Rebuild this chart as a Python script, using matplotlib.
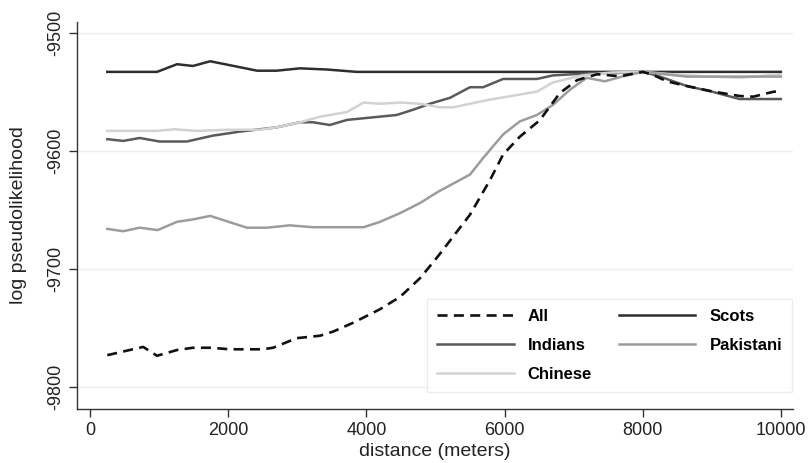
import numpy as np
import matplotlib
matplotlib.use("Agg")
import matplotlib.pyplot as plt

plt.rcParams['font.family'] = ['Liberation Sans', 'DejaVu Sans']
plt.rcParams['axes.unicode_minus'] = False

# distance (m) and log pseudolikelihood
all_x = [250, 620, 770, 970, 1260, 1490, 1740, 2030, 2500, 2650, 2990, 3330, 3520, 3810,
         4200, 4490, 4780, 5040, 5500, 5790, 5980, 6220, 6510, 6800, 7050, 7340, 7670,
         8000, 8150, 8350, 8640, 9020, 9400, 9600, 9880, 10000]
all_y = [-9773, -9768, -9766, -9773.5, -9768.6, -9766.7, -9766.7, -9768, -9768, -9766.7,
         -9758.6, -9756.5, -9753, -9745.5, -9734, -9723.5, -9707.6, -9689, -9654, -9624.6,
         -9603, -9588, -9574, -9551, -9540, -9535, -9536.7, -9533, -9535.5, -9541, -9545,
         -9549.7, -9553.4, -9554, -9550, -9549]

scots_x = [250, 970, 1260, 1490, 1740, 2420, 2700, 3040, 3430, 3860, 5060, 6000, 8000, 10000]
scots_y = [-9533, -9533, -9526.5, -9528, -9524, -9532, -9532, -9530, -9531, -9533,
           -9533, -9533, -9533, -9533]

indians_x = [250, 480, 720, 1010, 1400, 1780, 2170, 2700, 3040, 3230, 3470, 3720, 4010,
             4440, 4680, 4920, 5210, 5500, 5690, 5980, 6470, 6700, 7280, 7600, 8000,
             8200, 8640, 9020, 9400, 10000]
indians_y = [-9590, -9591.5, -9589, -9592, -9592, -9587, -9583.6, -9580, -9575.7, -9575.7,
             -9578, -9573.7, -9572, -9569.5, -9565, -9560, -9555, -9546, -9546, -9539,
             -9539, -9536, -9534, -9534, -9533, -9536, -9545, -9550, -9556, -9556]

pakistani_x = [250, 480, 720, 980, 1260, 1490, 1740, 2270, 2560, 2890, 3230, 3960, 4200,
               4490, 4780, 5040, 5500, 5690, 5980, 6220, 6470, 6700, 6950, 7190, 7450,
               7700, 8000, 8640, 10000]
pakistani_y = [-9666, -9668, -9665, -9667, -9660, -9658, -9655, -9665, -9665, -9663,
               -9664.6, -9664.6, -9660, -9652.6, -9644, -9634.5, -9620, -9606, -9586,
               -9575, -9569.5, -9561, -9548, -9538, -9541, -9537, -9533, -9537, -9537]

chinese_x = [250, 970, 1220, 1540, 2030, 2460, 2700, 3040, 3330, 3720, 3960, 4200, 4490,
             4780, 5060, 5260, 5740, 6470, 6700, 7120, 7550, 8000, 8640, 9400, 10000]
chinese_y = [-9583, -9583, -9581.6, -9583, -9582, -9582, -9580, -9575.7, -9571, -9567,
             -9559, -9560, -9559, -9560, -9563, -9563, -9557, -9549.7, -9542, -9536,
             -9533.5, -9533, -9536, -9538, -9535]

fig = plt.figure(figsize=(8.08, 4.63), dpi=100)
ax = fig.add_axes([0.0953, 0.1166, 0.886, 0.836])

h_scots, = ax.plot(scots_x, scots_y, color='#2e2e2e', lw=1.8, label='Scots')
h_ind, = ax.plot(indians_x, indians_y, color='#5a5a5a', lw=1.8, label='Indians')
h_chn, = ax.plot(chinese_x, chinese_y, color='#d2d2d2', lw=1.8, label='Chinese')
h_pak, = ax.plot(pakistani_x, pakistani_y, color='#9c9c9c', lw=1.8, label='Pakistani')
h_all, = ax.plot(all_x, all_y, color='#111111', lw=1.9, ls=(0, (3.8, 2.4)), label='All')

ax.set_xlim(-188, 10174)
ax.set_ylim(-9818.6, -9490.7)
ax.set_xticks([0, 2000, 4000, 6000, 8000, 10000])
ax.set_yticks([-9800, -9700, -9600, -9500])
ax.grid(axis='y', color='#e6eff1', lw=1.0)
ax.set_axisbelow(True)
for s in ['top', 'right']:
    ax.spines[s].set_visible(False)
for s in ['left', 'bottom']:
    ax.spines[s].set_color('#333333')
    ax.spines[s].set_linewidth(1.0)
ax.tick_params(axis='both', length=6, width=1.0, color='#333333', labelsize=13,
               labelcolor='#222222')
plt.setp(ax.get_yticklabels(), rotation=90, va='center')

ax.set_xlabel('distance (meters)', fontsize=14, color='#222222', labelpad=3)
ax.set_ylabel('log pseudolikelihood', fontsize=14, color='#222222', labelpad=14)

leg = ax.legend(handles=[h_all, h_ind, h_chn, h_scots, h_pak], ncol=2,
                loc='lower left', bbox_to_anchor=(0.4888, 0.044, 0.51, 0.24),
                mode='expand', borderaxespad=0, frameon=True, fancybox=False,
                handlelength=4.6, handletextpad=0.85, columnspacing=1.9,
                labelspacing=0.85, prop={'weight': 'bold', 'size': 12}, borderpad=0.6)
leg.get_frame().set_edgecolor('#e3ebee')
leg.get_frame().set_linewidth(1.0)

fig.savefig('out.png', dpi=100)
